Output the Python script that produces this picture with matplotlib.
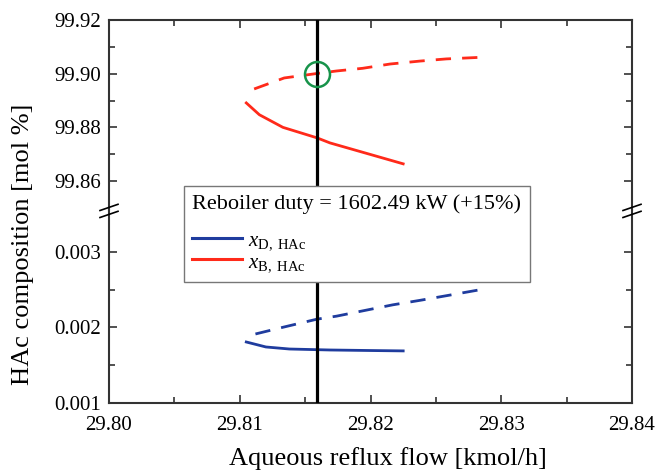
import matplotlib
matplotlib.use("Agg")
import matplotlib.pyplot as plt
from matplotlib.lines import Line2D

plt.rcParams['font.family'] = ['Liberation Serif', 'DejaVu Serif']
plt.rcParams['mathtext.fontset'] = 'custom'
plt.rcParams['mathtext.rm'] = 'Liberation Serif'
plt.rcParams['mathtext.it'] = 'Liberation Serif:italic'

# ---- data ----
xB_dash_x = [29.8111, 29.8134, 29.8158, 29.8174, 29.8194, 29.8215, 29.8238, 29.8258, 29.8289]
xB_dash_y = [99.8943, 99.8984, 99.9000, 99.9010, 99.9020, 99.9036, 99.9047, 99.9055, 99.9062]
xB_solid_x = [29.8105, 29.8115, 29.8133, 29.8159, 29.8169, 29.8197, 29.8225]
xB_solid_y = [99.8891, 99.8847, 99.8800, 99.8761, 99.8742, 99.8703, 99.8664]
xD_solid_x = [29.8105, 29.8120, 29.8138, 29.8169, 29.8200, 29.8225]
xD_solid_y = [0.001808, 0.001742, 0.001715, 0.001702, 0.001695, 0.001690]
xD_dash_x = [29.8112, 29.8134, 29.8159, 29.8174, 29.8194, 29.8217, 29.8238, 29.8261, 29.8287]
xD_dash_y = [0.001914, 0.002007, 0.002110, 0.002150, 0.002220, 0.002300, 0.002360, 0.002430, 0.002510]
vline_x = 29.8159
circle_pt = (29.8159, 99.9000)
xticks = [29.80, 29.81, 29.82, 29.83, 29.84]
yticks_top = [99.86, 99.88, 99.90, 99.92]
yticks_bot = [0.001, 0.002, 0.003]
legend_title = 'Reboiler duty = 1602.49 kW (+15%)'
labels = [r'$x_{\mathrm{D,\ HAc}}$', r'$x_{\mathrm{B,\ HAc}}$']

blue = '#1f3c9e'
red = '#ff2a1a'
green = '#17934a'
spine_c = '#333333'

W, H = 655, 470
fig = plt.figure(figsize=(W / 100, H / 100), dpi=100)
L, R = 109 / W, 632 / W
top_px, brk_px, bot_px = 20, 210, 403
ax1 = fig.add_axes([L, 1 - brk_px / H, R - L, (brk_px - top_px) / H])
ax2 = fig.add_axes([L, 1 - bot_px / H, R - L, (bot_px - brk_px) / H])

lw = 2.0
ax1.plot(xB_dash_x, xB_dash_y, color=red, lw=lw, dashes=(5.5, 4))
ax1.plot(xB_solid_x, xB_solid_y, color=red, lw=lw)
ax2.plot(xD_dash_x, xD_dash_y, color=blue, lw=lw, dashes=(5.5, 4))
ax2.plot(xD_solid_x, xD_solid_y, color=blue, lw=lw)
for ax in (ax1, ax2):
    ax.axvline(vline_x, color='black', lw=2.3, zorder=3)
ax1.plot([circle_pt[0]], [circle_pt[1]], marker='o', ms=18, mfc='none',
         mec=green, mew=1.8, zorder=4)

ax1.set_ylim(99.8492, 99.92)
ax2.set_ylim(0.001, 0.003556)
for ax in (ax1, ax2):
    ax.set_xlim(29.80, 29.84)
    ax.set_xticks(xticks)
    ax.set_xticks([29.805, 29.815, 29.825, 29.835], minor=True)
    ax.tick_params(which='both', direction='in', top=True, right=True,
                   width=1.2, color=spine_c, labelsize=15)
    ax.tick_params(axis='y', pad=6)
    ax.tick_params(axis='x', pad=9)
    ax.tick_params(which='major', length=6)
    ax.tick_params(which='minor', length=4)
    for s in ax.spines.values():
        s.set_color(spine_c)
        s.set_linewidth(1.5)

ax1.set_yticks(yticks_top)
ax1.set_yticklabels(['%.2f' % v for v in yticks_top])
ax1.set_yticks([99.87, 99.89, 99.91], minor=True)
ax1.spines['bottom'].set_visible(False)
ax1.tick_params(which='both', bottom=False, labelbottom=False)

ax2.set_yticks(yticks_bot)
ax2.set_yticklabels(['%.3f' % v for v in yticks_bot])
ax2.set_yticks([0.0015, 0.0025], minor=True)
ax2.spines['top'].set_visible(False)
ax2.tick_params(which='both', top=False)
ax2.set_xticklabels(['%.2f' % v for v in xticks])

# break marks (figure pixel coords)
def fig_line(x0, y0, x1, y1):
    fig.add_artist(Line2D([x0 / W, x1 / W], [1 - y0 / H, 1 - y1 / H],
                          color='black', lw=1.2, transform=fig.transFigure))

for xc in (109, 632):
    fig_line(xc - 9, 210.5, xc + 9, 204.3)
    fig_line(xc - 9, 217.5, xc + 9, 211.3)

fig.text(388 / W, 1 - 459 / H, 'Aqueous reflux flow [kmol/h]', ha='center',
         va='center', fontsize=19)
fig.text(23 / W, 1 - 244 / H, 'HAc composition [mol %]', ha='center',
         va='center', fontsize=19, rotation=90)

handles = [Line2D([], [], color=blue, lw=2.2), Line2D([], [], color=red, lw=2.2)]
leg = fig.legend(handles, labels, title=legend_title, loc='upper left',
                 bbox_to_anchor=(184 / W, 1 - 186 / H), borderaxespad=0,
                 fontsize=15, title_fontsize=16, frameon=True, fancybox=False,
                 edgecolor='#777777', framealpha=1, borderpad=0.4,
                 handlelength=2.4, handletextpad=0.25, labelspacing=0.0)
leg._legend_box.align = 'left'
leg._legend_box.sep = 12
leg.get_frame().set_linewidth(1.0)
leg.set_zorder(10)

fig.savefig('out.png', dpi=100)
